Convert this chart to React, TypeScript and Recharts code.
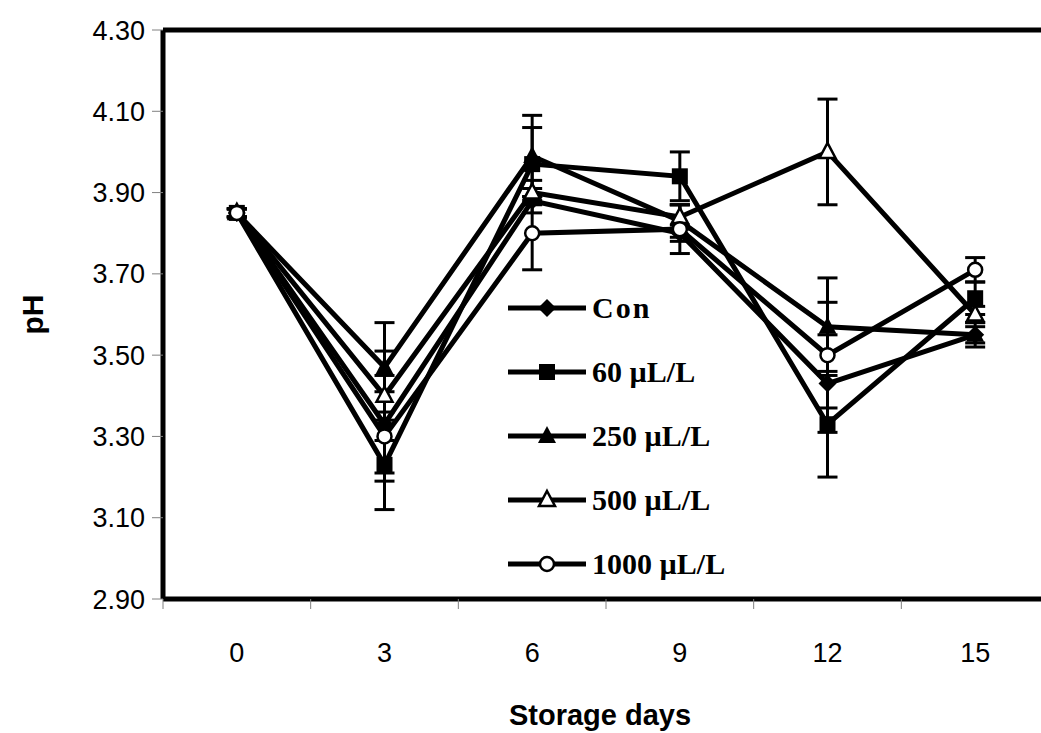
import React from 'react';
import { ComposedChart, Line, XAxis, YAxis, ErrorBar, Legend, ReferenceLine } from 'recharts';

// Storage days and pH readings
const days = [0, 3, 6, 9, 12, 15];

const conPH = [3.85, 3.33, 3.88, 3.80, 3.43, 3.55];
const conErr = [0.01, 0.12, 0.03, 0.02, 0.12, 0.03];

const ul60PH = [3.85, 3.23, 3.97, 3.94, 3.33, 3.64];
const ul60Err = [0.01, 0.11, 0.09, 0.06, 0.13, 0.04];

const ul250PH = [3.85, 3.47, 3.99, 3.83, 3.57, 3.55];
const ul250Err = [0.01, 0.11, 0.10, 0.04, 0.12, 0.02];

const ul500PH = [3.85, 3.40, 3.90, 3.84, 4.00, 3.60];
const ul500Err = [0.01, 0.11, 0.03, 0.03, 0.13, 0.02];

const ul1000PH = [3.85, 3.30, 3.80, 3.81, 3.50, 3.71];
const ul1000Err = [0.01, 0.11, 0.09, 0.06, 0.13, 0.03];

const yTicks = [2.9, 3.1, 3.3, 3.5, 3.7, 3.9, 4.1, 4.3];
// tick marks sit between the day categories
const xBoundaryTicks = [-1.5, 1.5, 4.5, 7.5, 10.5, 13.5];

const series = [
  { key: 'con', err: 'conErr', name: 'Con', shape: 'diamond' },
  { key: 'ul60', err: 'ul60Err', name: '60 \u00b5L/L', shape: 'square' },
  { key: 'ul250', err: 'ul250Err', name: '250 \u00b5L/L', shape: 'triangle' },
  { key: 'ul500', err: 'ul500Err', name: '500 \u00b5L/L', shape: 'openTriangle' },
  { key: 'ul1000', err: 'ul1000Err', name: '1000 \u00b5L/L', shape: 'circle' },
];

const data = days.map((day, i) => ({
  day,
  con: conPH[i], conErr: conErr[i],
  ul60: ul60PH[i], ul60Err: ul60Err[i],
  ul250: ul250PH[i], ul250Err: ul250Err[i],
  ul500: ul500PH[i], ul500Err: ul500Err[i],
  ul1000: ul1000PH[i], ul1000Err: ul1000Err[i],
}));

const CHART_W = 1049;
const CHART_H = 733;
const LEFT = 163;
const HALF_BAND = ((CHART_W - LEFT) / 18) * 1.5;
const SANS = "'Liberation Sans', Arial, sans-serif";

const marker = (shape: string, cx: number, cy: number, key?: any) => {
  switch (shape) {
    case 'diamond':
      return <polygon key={key} points={`${cx},${cy - 9} ${cx + 9},${cy} ${cx},${cy + 9} ${cx - 9},${cy}`} fill="#000" />;
    case 'square':
      return <rect key={key} x={cx - 8} y={cy - 8} width={16} height={16} fill="#000" />;
    case 'triangle':
      return <polygon key={key} points={`${cx},${cy - 10} ${cx + 9},${cy + 7} ${cx - 9},${cy + 7}`} fill="#000" />;
    case 'openTriangle':
      return <polygon key={key} points={`${cx},${cy - 9} ${cx + 8},${cy + 6} ${cx - 8},${cy + 6}`} fill="#fff" stroke="#000" strokeWidth={2.5} />;
    default:
      return <circle key={key} cx={cx} cy={cy} r={7} fill="#fff" stroke="#000" strokeWidth={2.5} />;
  }
};

const XTick = (props: any) => {
  const { x, y, payload } = props;
  return (
    <text x={x + HALF_BAND} y={y + 53} textAnchor="middle" fontSize={27} fontFamily={SANS} fill="#000">
      {payload.value + 1.5}
    </text>
  );
};

const YLabel = (props: any) => {
  const vb = props.viewBox || { x: 0, y: 30, height: 569 };
  const cx = 32;
  const cy = vb.y + vb.height / 2;
  return (
    <text x={cx} y={cy} transform={`rotate(-90 ${cx} ${cy})`} textAnchor="middle" dominantBaseline="central"
      fontSize={30} fontWeight="bold" fontFamily={SANS} fill="#000">
      pH
    </text>
  );
};

const XLabel = (props: any) => {
  const vb = props.viewBox || { x: 163, y: 599, width: 886 };
  return (
    <text x={600} y={vb.y + 126} textAnchor="middle" fontSize={29} fontWeight="bold" fontFamily={SANS} fill="#000">
      Storage days
    </text>
  );
};

const renderLegend = () => (
  <div>
    {series.map((s) => (
      <div key={s.key} style={{ height: 64, display: 'flex', alignItems: 'center' }}>
        <svg width={78} height={24}>
          <line x1={0} y1={12} x2={78} y2={12} stroke="#000" strokeWidth={5} />
          {marker(s.shape, 39, 12)}
        </svg>
        <span style={{ marginLeft: 6, fontFamily: "'Liberation Serif', 'Times New Roman', serif", fontWeight: 'bold', fontSize: 30, color: '#000', letterSpacing: s.key === 'con' ? 2 : 0 }}>
          {s.name}
        </span>
      </div>
    ))}
  </div>
);

const App = () => {
  return (
    <div style={{ position: 'absolute', left: 0, top: 0, width: 1041, height: 733, overflow: 'hidden', background: '#fff' }}>
      <ComposedChart width={CHART_W} height={CHART_H} data={data} margin={{ top: 30, right: 0, bottom: 0, left: 0 }}>
        <XAxis
          dataKey="day"
          type="number"
          domain={[-1.5, 16.5]}
          ticks={xBoundaryTicks}
          allowDataOverflow
          height={134}
          axisLine={{ stroke: '#000', strokeWidth: 5 }}
          tickLine={{ stroke: '#808080', strokeWidth: 1 }}
          tickSize={10}
          tickMargin={0}
          tick={<XTick />}
          label={<XLabel />}
        />
        <YAxis
          type="number"
          domain={[2.9, 4.3]}
          ticks={yTicks}
          allowDataOverflow
          width={LEFT}
          axisLine={{ stroke: '#000', strokeWidth: 5 }}
          tickLine={{ stroke: '#808080', strokeWidth: 1 }}
          tickSize={11}
          tickMargin={7}
          tickFormatter={(v: number) => v.toFixed(2)}
          tick={{ fill: '#000', fontSize: 27, fontFamily: SANS }}
          label={<YLabel />}
        />
        <ReferenceLine y={4.3} stroke="#000" strokeWidth={5} />
        {series.map((s) => (
          <Line
            key={s.key}
            dataKey={s.key}
            name={s.name}
            stroke="#000"
            strokeWidth={5}
            isAnimationActive={false}
            dot={(p: any) => marker(s.shape, p.cx, p.cy, `${s.key}-${p.index}`)}
            activeDot={false}
          >
            <ErrorBar dataKey={s.err} direction="y" width={10} stroke="#000" strokeWidth={3} isAnimationActive={false} />
          </Line>
        ))}
        <Legend
          layout="vertical"
          verticalAlign="middle"
          align="center"
          content={renderLegend}
          wrapperStyle={{ left: 508, top: 276, width: 280 }}
        />
      </ComposedChart>
    </div>
  );
};

export default App;
